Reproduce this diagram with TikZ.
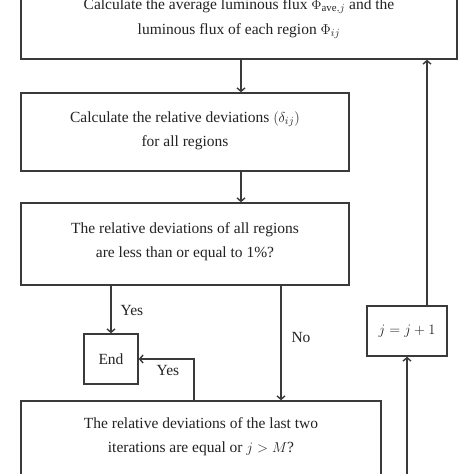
\documentclass[tikz,border=0pt]{standalone}
\usepackage{fontspec}
\setmainfont{Liberation Serif}
\usetikzlibrary{arrows.meta}
\definecolor{ln}{HTML}{3A3A3A}
\definecolor{tx}{HTML}{222222}
\tikzset{
  box/.style={draw=ln, line width=1.4pt, inner sep=0pt},
  txt/.style={text=tx, align=center, font=\fontsize{15.5}{24.5}\selectfont, inner sep=0pt},
  lbl/.style={text=tx, font=\fontsize{15.5}{18}\selectfont, inner sep=0pt},
  arr/.style={draw=ln, line width=1.4pt, -{Straight Barb[length=3.5pt,width=8pt]}},
  conn/.style={draw=ln, line width=1.4pt}
}
\begin{document}
\begin{tikzpicture}[x=1pt,y=-1pt]
\useasboundingbox (0,0) rectangle (474,474);
\clip (0,0) rectangle (474,474);
% boxes
\node[box, minimum width=436pt, minimum height=80pt] (b1) at (239,19) {};
\node[txt] (t1) at (239,18.5) {Calculate the average luminous flux $\Phi_{\mathrm{ave},j}$ and the\\luminous flux of each region $\Phi_{ij}$};
\node[box, minimum width=328pt, minimum height=78pt] (b2) at (185,132) {};
\node[txt] (t2) at (185,131) {Calculate the relative deviations $(\delta_{ij})$\\for all regions};
\node[box, minimum width=328pt, minimum height=82pt] (b3) at (185,244) {};
\node[txt] (t3) at (185,241.5) {The relative deviations of all regions\\are less than or equal to 1\%?};
\node[box, minimum width=54pt, minimum height=50pt, text=tx, font=\fontsize{15.5}{18}\selectfont] (end) at (111,359) {End};
\node[box, minimum width=360pt, minimum height=100pt] (b4) at (201,451) {};
\node[txt] (t4) at (201,436.5) {The relative deviations of the last two\\iterations are equal or $j > M$?};
\node[box, minimum width=80pt, minimum height=50pt, text=tx, font=\fontsize{15.5}{18}\selectfont] (jb) at (407,331) {$j = j + 1$};
\coordinate (bot) at (407,480);
% connectors
\draw[arr] (b1.south -| 241,0) -- (b2.north -| 241,0);
\draw[arr] (b2.south -| 241,0) -- (b3.north -| 241,0);
\draw[arr] (b3.south -| end.north) -- (end.north);
\draw[arr] (b3.south -| 281,0) -- (b4.north -| 281,0);
\draw[arr] (b4.north -| 194,0) |- (end.east);
\draw[arr] (jb.north -| 427,0) -- (b1.south -| 427,0);
\draw[arr] (bot) -- (jb.south);
% labels
\node[lbl] (yes1) at (132,310) {Yes};
\node[lbl] (no1) at (301,337) {No};
\node[lbl] (yes2) at (168,370) {Yes};
\end{tikzpicture}
\end{document}
